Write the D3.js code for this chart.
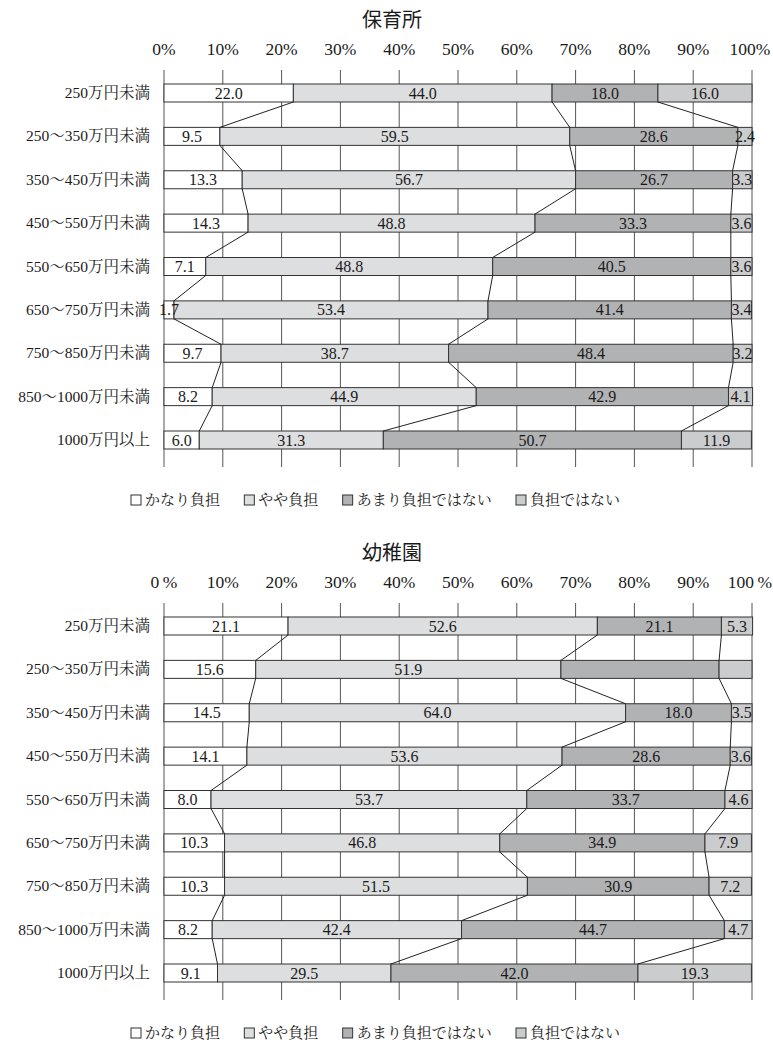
<!DOCTYPE html>
<html>
<head>
<meta charset="utf-8">
<script src="https://cdn.jsdelivr.net/npm/d3@7"></script>
<style>
body { margin: 0; background: #fff; }
text { fill: #1a1a1a; }
</style>
</head>
<body>
<svg id="chart" width="773" height="1046"></svg>
<script>
// categories
var incomeGroups = ["250万円未満", "250～350万円未満", "350～450万円未満", "450～550万円未満",
  "550～650万円未満", "650～750万円未満", "750～850万円未満", "850～1000万円未満", "1000万円以上"];
var seriesNames = ["かなり負担", "やや負担", "あまり負担ではない", "負担ではない"];
var seriesColors = ["#ffffff", "#dddee0", "#b1b2b4", "#cbcccd"];

// 保育所
var hoikuValues = [
  [22.0, 44.0, 18.0, 16.0],
  [9.5, 59.5, 28.6, 2.4],
  [13.3, 56.7, 26.7, 3.3],
  [14.3, 48.8, 33.3, 3.6],
  [7.1, 48.8, 40.5, 3.6],
  [1.7, 53.4, 41.4, 3.4],
  [9.7, 38.7, 48.4, 3.2],
  [8.2, 44.9, 42.9, 4.1],
  [6.0, 31.3, 50.7, 11.9]
];
// 幼稚園 (row 2: last two segments have no printed value)
var youchienValues = [
  [21.1, 52.6, 21.1, 5.3],
  [15.6, 51.9, 26.9, 5.6],
  [14.5, 64.0, 18.0, 3.5],
  [14.1, 53.6, 28.6, 3.6],
  [8.0, 53.7, 33.7, 4.6],
  [10.3, 46.8, 34.9, 7.9],
  [10.3, 51.5, 30.9, 7.2],
  [8.2, 42.4, 44.7, 4.7],
  [9.1, 29.5, 42.0, 19.3]
];
var youchienHiddenLabels = [[1, 2], [1, 3]]; // [row, series]

var tickValues = [0, 10, 20, 30, 40, 50, 60, 70, 80, 90, 100];
var hoikuTickLabels = ["0%", "10%", "20%", "30%", "40%", "50%", "60%", "70%", "80%", "90%", "100%"];
var youchienTickLabels = ["0\u2009%", "10%", "20%", "30%", "40%", "50%", "60%", "70%", "80%", "90%", "100\u2009%"];

var svg = d3.select("#chart");
var x = d3.scaleLinear().domain([0, 100]).range([164, 752]);
var serif = "'Liberation Serif', 'Noto Serif CJK JP', 'Noto Sans CJK JP', serif";
var barH = 18;

function drawPanel(offsetY, title, values, hidden, tickLabels) {
  var g = svg.append("g").attr("transform", "translate(0," + offsetY + ")");
  var y = d3.scalePoint().domain(incomeGroups).range([93, 440]);

  var rows = values.map(function(v, i) {
    var o = { group: incomeGroups[i], row: i };
    seriesNames.forEach(function(s, j) { o[s] = v[j]; });
    return o;
  });
  var stacked = d3.stack().keys(seriesNames)(rows);

  g.append("text")
    .attr("x", 392).attr("y", 27)
    .attr("text-anchor", "middle")
    .style("font-family", "'Noto Sans CJK JP', sans-serif")
    .style("font-size", "20px")
    .text(title);

  // gridlines
  g.selectAll(".grid").data(tickValues).enter().append("line")
    .attr("x1", function(d) { return x(d); })
    .attr("x2", function(d) { return x(d); })
    .attr("y1", 70).attr("y2", 467)
    .attr("stroke", "#555").attr("stroke-width", 1);

  g.selectAll(".tick").data(tickValues).enter().append("text")
    .attr("x", function(d) { return Math.min(x(d), 750); })
    .attr("y", 55)
    .attr("text-anchor", "middle")
    .style("font-family", serif)
    .style("font-size", "17.5px")
    .text(function(d, i) { return tickLabels[i]; });

  // row labels
  g.selectAll(".rowlab").data(incomeGroups).enter().append("text")
    .attr("x", 150)
    .attr("y", function(d) { return y(d) + 5; })
    .attr("text-anchor", "end")
    .style("font-family", serif)
    .style("font-size", "15.5px")
    .text(function(d) { return d; });

  // bars
  stacked.forEach(function(layer, j) {
    g.selectAll(".seg" + j).data(layer).enter().append("rect")
      .attr("x", function(d) { return x(d[0]); })
      .attr("width", function(d) { return x(d[1]) - x(d[0]); })
      .attr("y", function(d) { return y(d.data.group) - barH / 2; })
      .attr("height", barH)
      .attr("fill", seriesColors[j])
      .attr("stroke", "#333").attr("stroke-width", 1);
  });

  // connector lines between boundaries
  for (var k = 0; k < 3; k++) {
    var layer = stacked[k];
    for (var i = 0; i < layer.length - 1; i++) {
      g.append("line")
        .attr("x1", x(layer[i][1])).attr("y1", y(incomeGroups[i]) + barH / 2)
        .attr("x2", x(layer[i + 1][1])).attr("y2", y(incomeGroups[i + 1]) - barH / 2)
        .attr("stroke", "#222").attr("stroke-width", 1);
    }
  }

  // value labels
  stacked.forEach(function(layer, j) {
    g.selectAll(".val" + j).data(layer.filter(function(d) {
        return !hidden.some(function(h) { return h[0] === d.data.row && h[1] === j; });
      })).enter().append("text")
      .attr("x", function(d) { return (x(d[0]) + x(d[1])) / 2; })
      .attr("y", function(d) { return y(d.data.group) + 5.5; })
      .attr("text-anchor", "middle")
      .style("font-family", serif)
      .style("font-size", "16px")
      .text(function(d) { return d3.format(".1f")(d[1] - d[0]); });
  });

  // legend, spread from 131 to 620
  var lg = g.append("g").attr("transform", "translate(0,505)");
  var items = [];
  seriesNames.forEach(function(s, j) {
    var it = lg.append("g");
    it.append("rect").attr("x", 0).attr("y", -10).attr("width", 10).attr("height", 10)
      .attr("fill", seriesColors[j]).attr("stroke", "#333").attr("stroke-width", 1);
    var t = it.append("text").attr("x", 14).attr("y", 0)
      .style("font-family", serif).style("font-size", "15px").text(s);
    items.push({ node: it, w: 14 + t.node().getComputedTextLength() });
  });
  var total = d3.sum(items, function(d) { return d.w; });
  var gap = (620 - 131 - total) / (items.length - 1);
  var cx = 131;
  items.forEach(function(d) {
    d.node.attr("transform", "translate(" + cx + ",0)");
    cx += d.w + gap;
  });
}

drawPanel(0, "保育所", hoikuValues, [], hoikuTickLabels);
drawPanel(533, "幼稚園", youchienValues, youchienHiddenLabels, youchienTickLabels);
</script>
</body>
</html>
